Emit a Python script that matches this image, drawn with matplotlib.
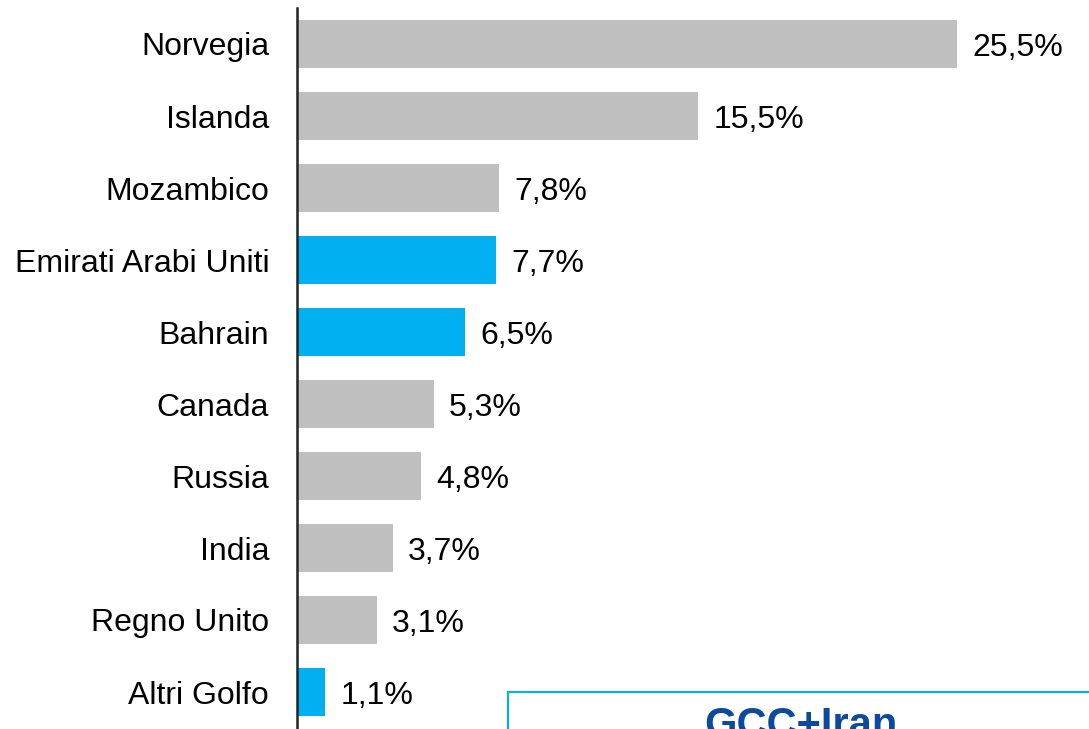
import matplotlib.pyplot as plt
from matplotlib.patches import Rectangle

plt.rcParams['font.family'] = ['Liberation Sans', 'DejaVu Sans']

# data
countries = ["Norvegia", "Islanda", "Mozambico", "Emirati Arabi Uniti", "Bahrain",
             "Canada", "Russia", "India", "Regno Unito", "Altri Golfo"]
values = [25.5, 15.5, 7.8, 7.7, 6.5, 5.3, 4.8, 3.7, 3.1, 1.1]
gulf = [False, False, False, True, True, False, False, False, False, True]

W, H = 1089, 729
fig = plt.figure(figsize=(W / 100, H / 100), dpi=100)
ax = fig.add_axes([297 / W, 0, (W - 297) / W, (H - 8) / H])

colors = ['#00B0F0' if g else '#BFBFBF' for g in gulf]
ypos = list(range(len(countries)))
ax.barh(ypos, values, height=0.667, color=colors)

for y, v in zip(ypos, values):
    ax.text(v + 0.58, y + 0.05, ("%.1f%%" % v).replace('.', ','), va='center', ha='left',
            fontsize=23, color='black')

ax.set_yticks(ypos)
ax.set_yticklabels(countries, fontsize=23)
ax.tick_params(axis='y', length=0, pad=20)
ax.set_xticks([])
ax.set_xlim(0, 30.6)
ax.set_ylim((729 - 44) / 72, -0.5)
for s in ['top', 'right', 'bottom']:
    ax.spines[s].set_visible(False)
ax.spines['left'].set_linewidth(1.8)
ax.spines['left'].set_color('#222222')

# GCC+Iran box (cut off at the bottom, as in the source)
box = Rectangle((508 / W, -0.2), 1.0, (H - 692) / H + 0.2, transform=fig.transFigure,
                fill=False, edgecolor='#00B0F0', linewidth=1.5, clip_on=False)
fig.patches.append(box)
fig.text(801 / W, (H - 706) / H, "GCC+Iran", ha='center', va='top', fontsize=30,
         fontweight='bold', color='#0B4A9E')

fig.savefig("out.png", dpi=100)
